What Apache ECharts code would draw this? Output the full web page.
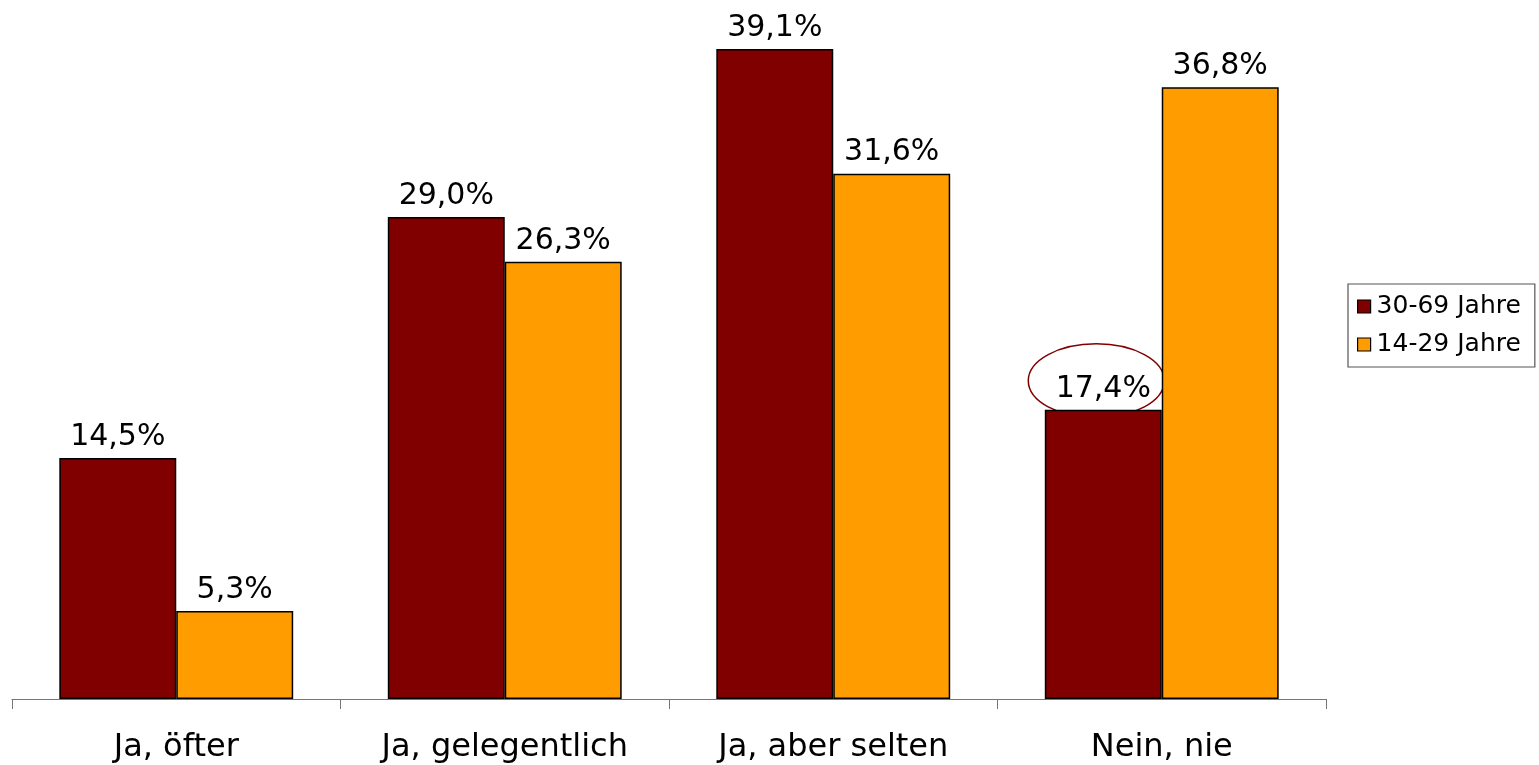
<!DOCTYPE html>
<html><head><meta charset="utf-8">
<script src="https://cdn.jsdelivr.net/npm/echarts@6/dist/echarts.min.js"></script>
<style>html,body{margin:0;padding:0;background:#fff}#c{width:1539px;height:765px}</style>
</head><body><div id="c"></div>
<script>
const categories = ["Ja, öfter", "Ja, gelegentlich", "Ja, aber selten", "Nein, nie"];
const seriesNames = ["30-69 Jahre", "14-29 Jahre"];
const older = [14.5, 29.0, 39.1, 17.4];
const younger = [5.3, 26.3, 31.6, 36.8];
const colors = ["#800000", "#FF9C00"];
const highlight = {series: 0, index: 3};

const FONT = "DejaVu Sans, Verdana, sans-serif";
const chart = echarts.init(document.getElementById('c'));
const fmt = p => p.value.toFixed(1).replace('.', ',') + '%';
function mk(name, data, color) {
  return {
    name: name, type: 'bar', data: data, barGap: '0%', barCategoryGap: '28.8%',
    itemStyle: {color: color, borderColor: '#000', borderWidth: 1.5},
    label: {show: true, position: 'top', distance: 6, formatter: fmt,
      color: '#000', fontFamily: FONT, fontSize: 30},
    emphasis: {disabled: true}
  };
}
chart.setOption({
  animation: false,
  textStyle: {fontFamily: FONT},
  grid: {left: 12, right: 213, top: 34, bottom: 66, containLabel: false},
  legend: {
    orient: 'vertical', left: 1348, top: 284,
    data: seriesNames,
    borderColor: '#555', borderWidth: 1.2, padding: [10, 14, 10, 9],
    itemWidth: 13, itemHeight: 13, itemGap: 13,
    icon: 'rect',
    itemStyle: {borderColor: '#000', borderWidth: 1.2},
    textStyle: {fontSize: 25, color: '#000', fontFamily: FONT, padding: [0, 0, 0, 1]}
  },
  xAxis: {
    type: 'category', data: categories,
    axisLine: {lineStyle: {color: '#777', width: 1.2}},
    axisTick: {show: true, interval: 0, length: 10, lineStyle: {color: '#777'}},
    axisLabel: {interval: 0, hideOverlap: false, fontSize: 32, color: '#000', margin: 33, fontFamily: FONT}
  },
  yAxis: {type: 'value', min: 0, max: 40, show: false, splitLine: {show: false}},
  series: [mk(seriesNames[0], older, colors[0]), mk(seriesNames[1], younger, colors[1])]
});
// Annotation ellipse around the highlighted label, positioned from the chart's own scale
const s = chart.getModel().getSeriesByIndex(highlight.series);
const layout = s.getData().getItemLayout(highlight.index);
const cx = layout.x + layout.width / 2;
const topY = Math.min(layout.y, layout.y + layout.height);
chart.setOption({graphic: [{
  type: 'ellipse', silent: true,
  shape: {cx: cx - 7, cy: topY - 29, rx: 68, ry: 37},
  style: {fill: 'none', stroke: '#800000', lineWidth: 1.5}
}]});
</script></body></html>
